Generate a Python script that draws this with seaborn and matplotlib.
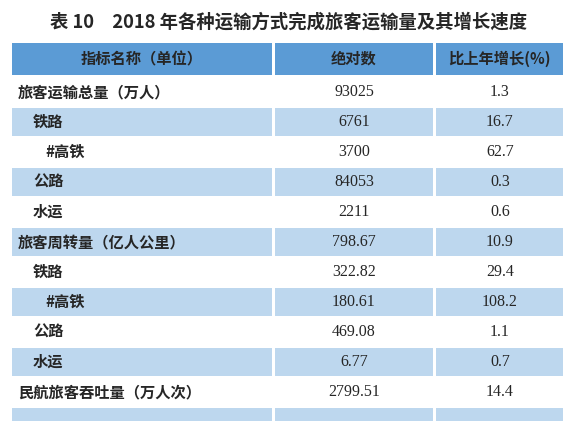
import matplotlib.pyplot as plt
import seaborn as sns
from matplotlib.patches import Rectangle

sns.set_style("white")
plt.rcParams['font.family'] = ['Noto Sans CJK SC', 'DejaVu Sans']

title = "表 10　2018 年各种运输方式完成旅客运输量及其增长速度"
headers = ["指标名称（单位）", "绝对数", "比上年增长(%)"]
names = ["旅客运输总量（万人）", "铁路", "#高铁", "公路", "水运",
         "旅客周转量（亿人公里）", "铁路", "#高铁", "公路", "水运",
         "民航旅客吞吐量（万人次）"]
levels = [0, 1, 2, 1, 1, 0, 1, 2, 1, 1, 0]
absolute = ["93025", "6761", "3700", "84053", "2211",
            "798.67", "322.82", "180.61", "469.08", "6.77", "2799.51"]
growth = ["1.3", "16.7", "62.7", "0.3", "0.6",
          "10.9", "29.4", "108.2", "1.1", "0.7", "14.4"]

head_color = "#5b9bd5"
band_color = "#bdd7ee"
cols = [(12, 272), (275, 433), (436, 563)]

fig = plt.figure(figsize=(5.75, 4.21), dpi=100)
ax = fig.add_axes([0, 0, 1, 1])
ax.set_xlim(0, 575)
ax.set_ylim(421, 0)
ax.axis("off")

ax.text(289, 22, title, ha="center", va="center", fontsize=13.2, fontweight="bold")

for (x0, x1), h in zip(cols, headers):
    ax.add_patch(Rectangle((x0, 43), x1 - x0, 32, color=head_color, lw=0))
    ax.text((x0 + x1) / 2, 59, h, ha="center", va="center", fontsize=11, fontweight="bold")

serif = ["Liberation Serif", "DejaVu Serif"]
n = len(names)
for i in range(n + 1):
    yc = 92 + 30 * i
    if i % 2 == 1:
        for x0, x1 in cols:
            ax.add_patch(Rectangle((x0, yc - 14), x1 - x0, 28, color=band_color, lw=0))
    if i >= n:
        continue
    ax.text(18 + 15 * levels[i] - (3 if levels[i] == 2 else 0), yc, names[i],
            ha="left", va="center", fontsize=11, fontweight="bold")
    ax.text(354, yc, absolute[i], ha="center", va="center", fontsize=11.5, family=serif)
    ax.text(500, yc, growth[i], ha="center", va="center", fontsize=11.5, family=serif)

fig.savefig("out.png", dpi=100)
